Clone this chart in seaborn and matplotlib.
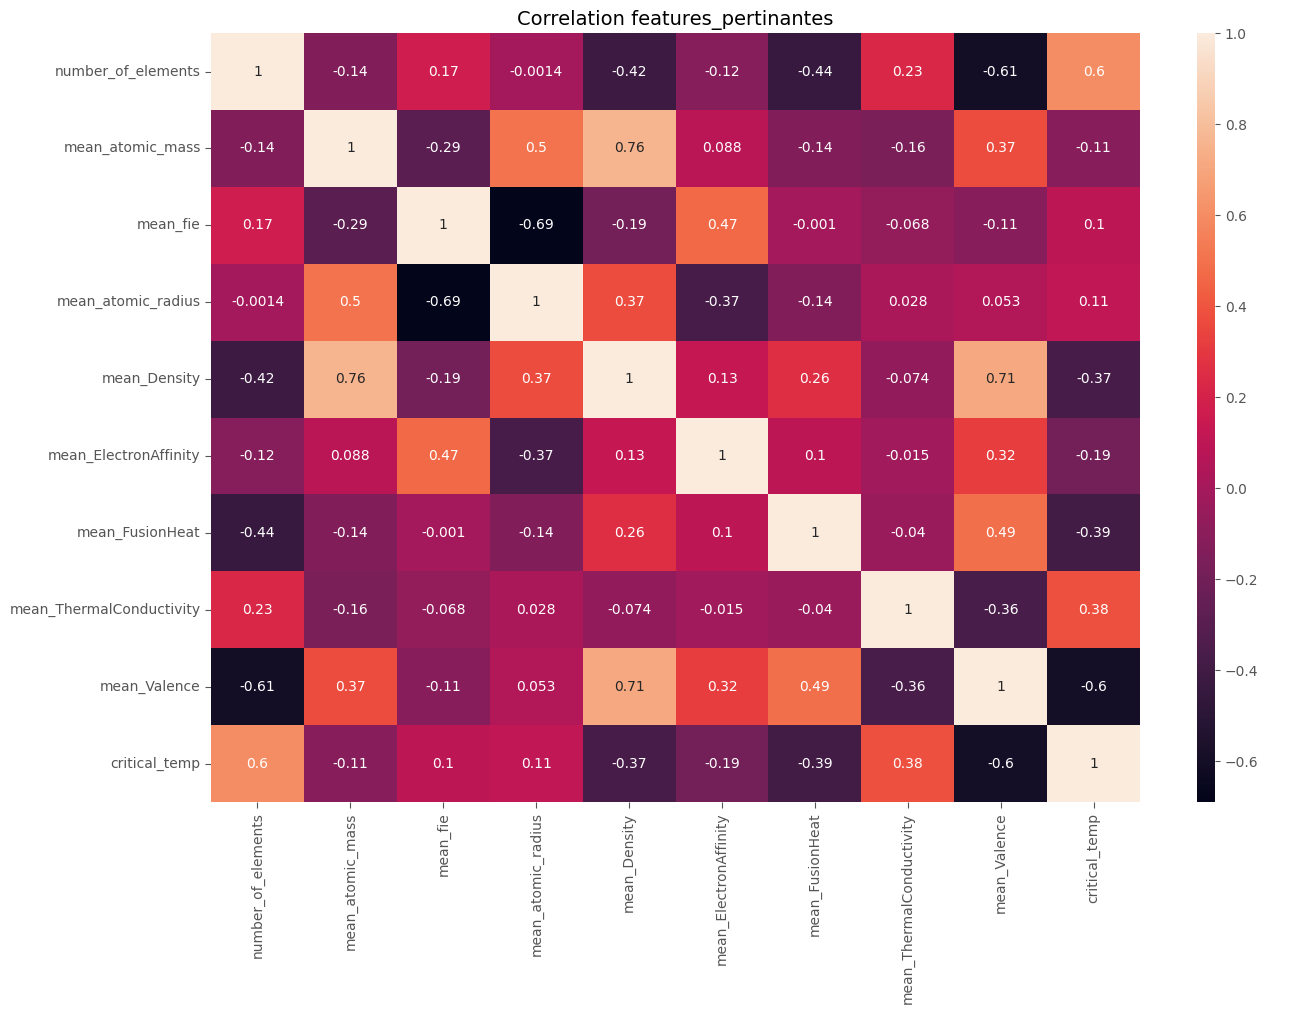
import matplotlib
matplotlib.use("Agg")
import matplotlib.pyplot as plt
import seaborn as sns
import pandas as pd
import numpy as np

features = ['number_of_elements', 'mean_atomic_mass', 'mean_fie', 'mean_atomic_radius',
            'mean_Density', 'mean_ElectronAffinity', 'mean_FusionHeat',
            'mean_ThermalConductivity', 'mean_Valence', 'critical_temp']

row_number_of_elements = [1, -0.14, 0.17, -0.0014, -0.42, -0.12, -0.44, 0.23, -0.61, 0.6]
row_mean_atomic_mass = [-0.14, 1, -0.29, 0.5, 0.76, 0.088, -0.14, -0.16, 0.37, -0.11]
row_mean_fie = [0.17, -0.29, 1, -0.69, -0.19, 0.47, -0.001, -0.068, -0.11, 0.1]
row_mean_atomic_radius = [-0.0014, 0.5, -0.69, 1, 0.37, -0.37, -0.14, 0.028, 0.053, 0.11]
row_mean_Density = [-0.42, 0.76, -0.19, 0.37, 1, 0.13, 0.26, -0.074, 0.71, -0.37]
row_mean_ElectronAffinity = [-0.12, 0.088, 0.47, -0.37, 0.13, 1, 0.1, -0.015, 0.32, -0.19]
row_mean_FusionHeat = [-0.44, -0.14, -0.001, -0.14, 0.26, 0.1, 1, -0.04, 0.49, -0.39]
row_mean_ThermalConductivity = [0.23, -0.16, -0.068, 0.028, -0.074, -0.015, -0.04, 1, -0.36, 0.38]
row_mean_Valence = [-0.61, 0.37, -0.11, 0.053, 0.71, 0.32, 0.49, -0.36, 1, -0.6]
row_critical_temp = [0.6, -0.11, 0.1, 0.11, -0.37, -0.19, -0.39, 0.38, -0.6, 1]

corr = pd.DataFrame([row_number_of_elements, row_mean_atomic_mass, row_mean_fie,
                     row_mean_atomic_radius, row_mean_Density, row_mean_ElectronAffinity,
                     row_mean_FusionHeat, row_mean_ThermalConductivity, row_mean_Valence,
                     row_critical_temp], index=features, columns=features)

plt.style.use('ggplot')

fig = plt.figure(figsize=(12.9, 10.14), dpi=100)
ax = fig.add_axes([0.1636, 0.209, 0.7202, 0.7584])
cax = fig.add_axes([0.928, 0.209, 0.014, 0.7584])

sns.heatmap(corr, annot=True, ax=ax, cbar_ax=cax)
ax.set_title('Correlation features_pertinantes', fontsize=14)
ax.tick_params(axis='both', length=4, color='#555555')

fig.savefig('out.png', dpi=100)
